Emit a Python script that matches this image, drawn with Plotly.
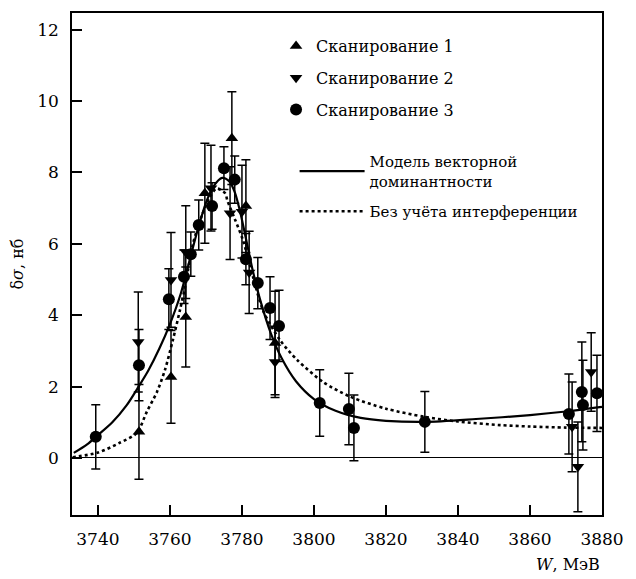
import plotly.graph_objects as go

# ---- data ----
scan1_W = [3751.4, 3760.3, 3764.4, 3769.7, 3777.2, 3781.1, 3789.2]
scan1_y = [0.73, 2.27, 3.95, 7.42, 8.96, 7.06, 3.22]
scan1_e = [1.33, 1.30, 1.40, 1.40, 1.30, 1.30, 1.45]

scan2_W = [3751.2, 3760.3, 3764.4, 3771.4, 3776.7, 3780.0, 3782.0, 3789.2, 3871.7, 3873.3, 3877.0]
scan2_y = [3.25, 4.99, 5.77, 7.56, 6.86, 6.90, 5.20, 2.69, 0.87, -0.25, 2.41]
scan2_e = [1.40, 1.33, 1.30, 1.20, 1.30, 1.30, 1.15, 1.00, 1.26, 1.26, 1.10]

scan3_W = [3739.4, 3751.4, 3759.7, 3763.9, 3765.8, 3768.0, 3771.7, 3775.0, 3778.0, 3781.1,
           3784.4, 3787.8, 3790.3, 3801.6, 3809.7, 3811.1, 3830.8, 3870.8, 3874.4, 3874.7, 3878.6]
scan3_y = [0.59, 2.60, 4.45, 5.08, 5.71, 6.53, 7.06, 8.12, 7.80, 5.57,
           4.90, 4.20, 3.70, 1.54, 1.37, 0.84, 1.01, 1.23, 1.85, 1.48, 1.81]
scan3_e = [0.90, 1.00, 0.85, 0.75, 0.62, 0.70, 0.65, 0.60, 0.66, 0.72,
           0.72, 0.88, 1.00, 0.93, 1.00, 0.92, 0.85, 1.12, 1.40, 1.26, 1.07]

vdm_W = [3733.3, 3737, 3740, 3744, 3748, 3751, 3754, 3757, 3760, 3763, 3766, 3768, 3770,
         3772, 3774.5, 3776.5, 3778, 3779.5, 3781, 3783, 3785, 3788, 3791, 3795, 3800,
         3806, 3813, 3820, 3830.8, 3845, 3860, 3870, 3880]
vdm_y = [0.14, 0.38, 0.64, 1.0, 1.48, 1.95, 2.45, 3.05, 3.75, 4.6, 5.75, 6.5, 7.15,
         7.6, 7.85, 7.75, 7.45, 6.9, 6.2, 5.25, 4.45, 3.5, 2.8, 2.15, 1.65,
         1.32, 1.12, 1.04, 1.01, 1.09, 1.2, 1.3, 1.43]

noint_W = [3733.0, 3740, 3746, 3750.8, 3753.6, 3756.4, 3758.6, 3760.8, 3762.8, 3764.2, 3766.4,
           3768.9, 3771, 3773, 3775.3, 3776, 3778, 3780.3, 3783, 3786, 3790.6, 3795.3, 3802.5,
           3810, 3820, 3830.8, 3840, 3851.7, 3860, 3870, 3880]
noint_y = [0.02, 0.15, 0.42, 0.7, 1.3, 1.85, 2.46, 3.3, 4.15, 4.79, 6.0,
           6.8, 7.3, 7.55, 7.42, 7.2, 6.7, 6.1, 5.1, 4.1, 3.3, 2.75, 2.13,
           1.72, 1.38, 1.15, 1.02, 0.92, 0.88, 0.85, 0.84]

x_ticks = [3740, 3760, 3780, 3800, 3820, 3840, 3860, 3880]
y_ticks = [0, 2, 4, 6, 8, 10, 12]

FONT = "DejaVu Serif"
BLACK = "black"

fig = go.Figure()

err_style = dict(type="data", thickness=1.5, width=4.5, color=BLACK)

fig.add_trace(go.Scatter(x=vdm_W, y=vdm_y, mode="lines",
                         line=dict(color=BLACK, width=2.2, shape="spline", smoothing=0.8),
                         name="Модель векторной<br>доминантности", legend="legend2",
                         legendgroup="a"))
fig.add_trace(go.Scatter(x=noint_W, y=noint_y, mode="lines",
                         line=dict(color=BLACK, width=2.6, dash="dot", shape="spline",
                                   smoothing=0.8),
                         name="Без учёта интерференции", legend="legend2", legendgroup="b"))

fig.add_trace(go.Scatter(x=scan1_W, y=scan1_y, mode="markers", name="Сканирование 1",
                         marker=dict(symbol="triangle-up", size=11, color=BLACK),
                         error_y=dict(array=scan1_e, **err_style), legendgroup="c"))
fig.add_trace(go.Scatter(x=scan2_W, y=scan2_y, mode="markers", name="Сканирование 2",
                         marker=dict(symbol="triangle-down", size=11, color=BLACK),
                         error_y=dict(array=scan2_e, **err_style), legendgroup="d"))
fig.add_trace(go.Scatter(x=scan3_W, y=scan3_y, mode="markers", name="Сканирование 3",
                         marker=dict(symbol="circle", size=12, color=BLACK),
                         error_y=dict(array=scan3_e, **err_style), legendgroup="e"))

fig.update_layout(
    width=636, height=579,
    margin=dict(l=72, r=34, t=13, b=64),
    paper_bgcolor="white", plot_bgcolor="white",
    font=dict(family=FONT, size=16, color=BLACK),
    legend=dict(x=0.385, y=0.968, xanchor="left", yanchor="top",
                font=dict(family=FONT, size=16, color=BLACK),
                bgcolor="rgba(0,0,0,0)", tracegroupgap=8, traceorder="grouped",
                itemwidth=30),
    legend2=dict(x=0.42, y=0.737, xanchor="left", yanchor="top",
                 font=dict(family=FONT, size=15, color=BLACK),
                 bgcolor="rgba(0,0,0,0)", tracegroupgap=8, traceorder="grouped",
                 itemwidth=65),
    xaxis=dict(range=[3732.8, 3880], tickvals=x_ticks, ticks="inside", ticklen=10,
               tickwidth=1.5, tickcolor=BLACK, showgrid=False, zeroline=False,
               showline=True, linecolor=BLACK, linewidth=1.5, mirror=True,
               ticklabelstandoff=8,
               tickfont=dict(family=FONT, size=17)),
    yaxis=dict(range=[-1.6, 12.47], tickvals=y_ticks, ticks="inside", ticklen=10,
               tickwidth=1.5, tickcolor=BLACK, showgrid=False, zeroline=True,
               zerolinecolor=BLACK, zerolinewidth=1.2,
               showline=True, linecolor=BLACK, linewidth=1.5, mirror=True,
               ticklabelstandoff=8,
               tickfont=dict(family=FONT, size=17),
               title=dict(text="δ<i>σ</i>, нб", font=dict(family=FONT, size=16), standoff=10)),
    annotations=[dict(text="<i>W</i>, МэВ", xref="paper", yref="paper", x=1.0, y=-0.098,
                      xanchor="right", yanchor="middle", showarrow=False,
                      font=dict(family=FONT, size=16))],
)

fig.write_html("out.html")
